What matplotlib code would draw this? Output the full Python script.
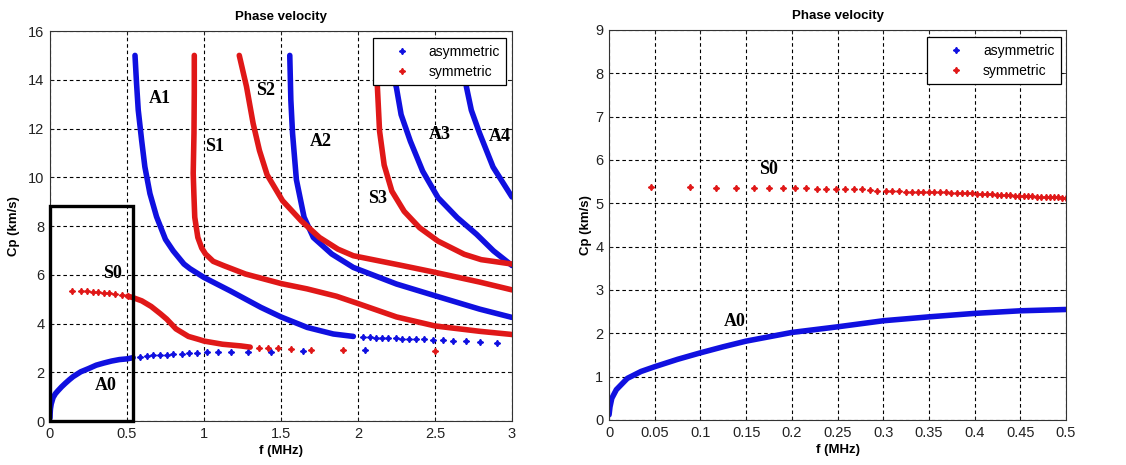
import matplotlib
matplotlib.use("Agg")
import matplotlib.pyplot as plt
from matplotlib.lines import Line2D
from matplotlib.patches import Rectangle

# ---------------- data ----------------
# A0 (asymmetric), dense part
a0_f = [0, 0.001, 0.003, 0.008, 0.02, 0.035, 0.05, 0.075, 0.1, 0.125, 0.15, 0.175,
        0.2, 0.25, 0.3, 0.35, 0.4, 0.45, 0.5, 0.54]
a0_cp = [0.12, 0.3, 0.5, 0.7, 0.96, 1.12, 1.23, 1.40, 1.55, 1.69, 1.82, 1.92,
         2.02, 2.15, 2.29, 2.38, 2.46, 2.52, 2.55, 2.60]
# A0 sparse points (left panel)
a0_dots_f = [0.584, 0.628, 0.671, 0.714, 0.758, 0.80, 0.855, 0.903, 0.957, 1.017,
             1.089, 1.175, 1.288, 1.435, 1.645, 2.045]
a0_dots_cp = [2.64, 2.67, 2.70, 2.71, 2.72, 2.75, 2.76, 2.78, 2.80, 2.82,
              2.82, 2.83, 2.83, 2.84, 2.88, 2.91]

# S0 (symmetric), left panel
s0_dots1_f = [0.141, 0.202, 0.242, 0.277, 0.313, 0.349, 0.384, 0.424, 0.465, 0.505]
s0_dots1_cp = [5.34, 5.32, 5.32, 5.30, 5.29, 5.27, 5.26, 5.23, 5.18, 5.12]
s0_f = [0.505, 0.535, 0.596, 0.657, 0.717, 0.758, 0.818, 0.899, 0.97, 1.0, 1.12,
        1.24, 1.30]
s0_cp = [5.12, 5.07, 4.93, 4.70, 4.40, 4.18, 3.78, 3.47, 3.34, 3.28, 3.15,
         3.08, 3.03]
s0_dots2_f = [1.36, 1.414, 1.48, 1.564, 1.692, 1.904, 2.503]
s0_dots2_cp = [2.99, 2.99, 2.99, 2.95, 2.93, 2.92, 2.87]

# A1
a1_f = [0.552, 0.562, 0.573, 0.595, 0.616, 0.649, 0.692, 0.75, 0.80, 0.87, 0.909,
        1.0, 1.17, 1.37, 1.5, 1.67, 1.84, 1.97]
a1_cp = [15.0, 13.85, 12.76, 11.52, 10.43, 9.33, 8.38, 7.45, 6.98, 6.44, 6.25,
         5.89, 5.34, 4.66, 4.27, 3.84, 3.57, 3.47]
a1_dots_f = [2.034, 2.075, 2.115, 2.156, 2.196, 2.247, 2.288, 2.334, 2.379, 2.43,
             2.49, 2.55, 2.62, 2.70, 2.79, 2.90]
a1_dots_cp = [3.44, 3.43, 3.42, 3.41, 3.40, 3.39, 3.38, 3.37, 3.36, 3.35,
              3.34, 3.31, 3.29, 3.27, 3.26, 3.22]

# S1
s1_f = [0.937, 0.937, 0.935, 0.93, 0.935, 0.94, 0.96, 0.985, 1.01, 1.06, 1.13,
        1.27, 1.5, 1.67, 1.86, 2.0, 2.25, 2.5, 2.79, 3.0]
s1_cp = [15.0, 13.5, 11.8, 10.16, 9.2, 8.36, 7.53, 7.1, 6.85, 6.55, 6.37,
         6.03, 5.64, 5.42, 5.12, 4.82, 4.27, 3.90, 3.68, 3.55]

# S2
s2_f = [1.229, 1.276, 1.319, 1.36, 1.41, 1.51, 1.63, 1.75, 1.87, 1.97, 2.27,
        2.5, 2.79, 3.0]
s2_cp = [15.0, 13.72, 12.21, 11.1, 10.1, 9.04, 8.22, 7.53, 7.05, 6.78, 6.40,
         6.10, 5.70, 5.38]

# A2
a2_f = [1.557, 1.564, 1.575, 1.60, 1.65, 1.71, 1.83, 1.97, 2.25, 2.5, 2.79, 3.0]
a2_cp = [15.0, 13.17, 11.8, 9.9, 8.36, 7.53, 6.85, 6.3, 5.62, 5.14, 4.59, 4.25]

# S3
s3_f = [2.12, 2.126, 2.14, 2.17, 2.22, 2.30, 2.40, 2.52, 2.69, 2.80, 3.0]
s3_cp = [15.0, 13.7, 11.9, 10.5, 9.43, 8.6, 7.93, 7.38, 6.84, 6.62, 6.44]

# A3
a3_f = [2.20, 2.25, 2.28, 2.34, 2.42, 2.52, 2.645, 2.77, 2.88, 3.0]
a3_cp = [15.0, 13.66, 12.57, 11.48, 10.25, 9.16, 8.34, 7.66, 6.98, 6.38]

# A4
a4_f = [2.68, 2.704, 2.736, 2.79, 2.877, 3.0]
a4_cp = [15.0, 13.71, 12.75, 11.8, 10.42, 9.19]

# S0 (right panel, sparse points)
s0r_f = [0.0454, 0.0888, 0.1166, 0.139, 0.159, 0.1746, 0.1905, 0.2034, 0.2153,
         0.2274, 0.2376, 0.2485, 0.2587, 0.2682, 0.2773, 0.2857, 0.293, 0.3028,
         0.31, 0.3175, 0.325, 0.332, 0.338, 0.344, 0.3503, 0.356, 0.3624, 0.3686,
         0.3745, 0.3807, 0.386, 0.3916, 0.397, 0.4025, 0.408, 0.4135, 0.419,
         0.424, 0.429, 0.434, 0.439, 0.444, 0.4485, 0.4536, 0.4584, 0.463, 0.468,
         0.473, 0.478, 0.482, 0.487, 0.491, 0.4957, 0.5]
s0r_cp = [5.37, 5.37, 5.35, 5.35, 5.35, 5.35, 5.35, 5.35, 5.35,
          5.32, 5.32, 5.32, 5.32, 5.32, 5.32, 5.31, 5.29, 5.29,
          5.29, 5.28, 5.27, 5.27, 5.27, 5.26, 5.26, 5.26, 5.25, 5.25,
          5.24, 5.24, 5.23, 5.23, 5.23, 5.22, 5.22, 5.21, 5.21,
          5.20, 5.20, 5.19, 5.19, 5.18, 5.18, 5.17, 5.16, 5.16, 5.15,
          5.15, 5.15, 5.14, 5.14, 5.14, 5.13, 5.13]

# mode labels: (text, f, cp)
left_labels = [("A1", 0.714, 13.25), ("S2", 1.40, 13.58), ("S1", 1.07, 11.28),
               ("A2", 1.76, 11.46), ("A3", 2.53, 11.77), ("A4", 2.92, 11.66),
               ("S3", 2.13, 9.14), ("S0", 0.407, 6.06), ("A0", 0.364, 1.44)]
right_labels = [("S0", 0.175, 5.77), ("A0", 0.138, 2.28)]

left_xticks = [0, 0.5, 1, 1.5, 2, 2.5, 3]
left_xticklabels = ["0", "0.5", "1", "1.5", "2", "2.5", "3"]
left_yticks = [0, 2, 4, 6, 8, 10, 12, 14, 16]
right_xticks = [0, 0.05, 0.1, 0.15, 0.2, 0.25, 0.3, 0.35, 0.4, 0.45, 0.5]
right_xticklabels = ["0", "0.05", "0.1", "0.15", "0.2", "0.25", "0.3", "0.35",
                     "0.4", "0.45", "0.5"]
right_yticks = [0, 1, 2, 3, 4, 5, 6, 7, 8, 9]
box_f, box_cp = 0.54, 8.83

# ---------------- style ----------------
BLUE = "#1010e0"
RED = "#e01818"
plt.rcParams["font.family"] = ["Liberation Sans", "DejaVu Sans"]
LW = 4.0
STAR = (4, 1, 0)
MS = 4.5

fig = plt.figure(figsize=(11.26, 4.65), dpi=100)
axL = fig.add_axes([0.0444, 0.0946, 0.4103, 0.8387])
axR = fig.add_axes([0.5409, 0.0968, 0.4058, 0.8387])


def style_axes(ax, xt, xtl, yt):
    ax.set_xticks(xt)
    ax.set_xticklabels(xtl)
    ax.set_yticks(yt)
    ax.tick_params(direction="in", length=3, width=0.6, labelsize=10.5,
                   top=True, right=True, pad=4, colors="#222222")
    ax.grid(True, color="black", linestyle=(0, (3.2, 2.6)), linewidth=0.8)
    for s in ax.spines.values():
        s.set_linewidth(0.8)
        s.set_color("#333333")
    ax.set_title("Phase velocity", fontsize=9.5, fontweight="bold", pad=8)
    ax.set_xlabel("f (MHz)", fontsize=9.5, fontweight="bold", labelpad=3)


def legend(ax):
    h = [Line2D([], [], color=BLUE, marker=STAR, linestyle="none", markersize=MS),
         Line2D([], [], color=RED, marker=STAR, linestyle="none", markersize=MS)]
    lg = ax.legend(h, ["asymmetric", "symmetric"], loc="upper right",
                   bbox_to_anchor=(0.988, 0.981), borderaxespad=0, fontsize=10,
                   handlelength=3.3, handletextpad=0.3, borderpad=0.45,
                   labelspacing=0.45, fancybox=False, framealpha=1,
                   edgecolor="black")
    lg.get_frame().set_linewidth(0.9)
    lg.set_zorder(10)


# ---------------- left panel ----------------
kw = dict(linewidth=LW, solid_capstyle="round", solid_joinstyle="round")
dkw = dict(marker=STAR, linestyle="none", markersize=MS)
axL.plot(a0_f, a0_cp, color=BLUE, **kw)
axL.plot(a0_dots_f, a0_dots_cp, color=BLUE, **dkw)
axL.plot(a1_f, a1_cp, color=BLUE, **kw)
axL.plot(a1_dots_f, a1_dots_cp, color=BLUE, **dkw)
axL.plot(a2_f, a2_cp, color=BLUE, **kw)
axL.plot(a3_f, a3_cp, color=BLUE, **kw)
axL.plot(a4_f, a4_cp, color=BLUE, **kw)
axL.plot(s0_dots1_f, s0_dots1_cp, color=RED, **dkw)
axL.plot(s0_f, s0_cp, color=RED, **kw)
axL.plot(s0_dots2_f, s0_dots2_cp, color=RED, **dkw)
axL.plot(s1_f, s1_cp, color=RED, **kw)
axL.plot(s2_f, s2_cp, color=RED, **kw)
axL.plot(s3_f, s3_cp, color=RED, **kw)
axL.set_xlim(0, 3)
axL.set_ylim(0, 16)
style_axes(axL, left_xticks, left_xticklabels, left_yticks)
axL.set_ylabel("Cp (km/s)", fontsize=9.5, fontweight="bold", labelpad=6)
axL.add_patch(Rectangle((0, 0), box_f, box_cp, fill=False, edgecolor="black",
                        linewidth=2.4, zorder=6, clip_on=False))
for t, x, y in left_labels:
    axL.text(x, y, t, fontsize=13, fontweight="bold", ha="center",
             va="center", family=["Liberation Serif", "DejaVu Serif"], zorder=7)
legend(axL)

# ---------------- right panel ----------------
axR.plot(a0_f[:-1], a0_cp[:-1], color=BLUE, **kw)
axR.plot(s0r_f, s0r_cp, color=RED, **dkw)
axR.set_xlim(0, 0.5)
axR.set_ylim(0, 9)
style_axes(axR, right_xticks, right_xticklabels, right_yticks)
axR.set_ylabel("Cp (km/s)", fontsize=9.5, fontweight="bold", labelpad=2)
for t, x, y in right_labels:
    axR.text(x, y, t, fontsize=13, fontweight="bold", ha="center",
             va="center", family=["Liberation Serif", "DejaVu Serif"], zorder=7)
legend(axR)

fig.savefig("out.png", dpi=100)
